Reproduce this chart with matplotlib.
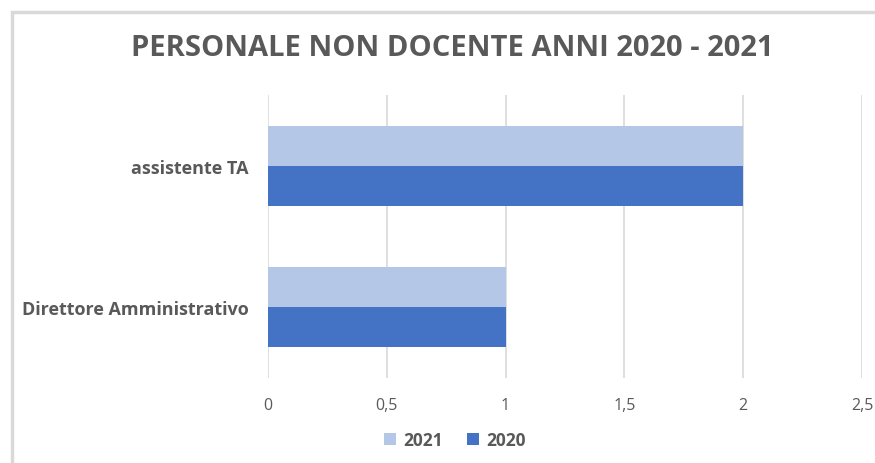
import matplotlib
matplotlib.use("Agg")
import matplotlib.pyplot as plt
from matplotlib.patches import Rectangle
from matplotlib.ticker import FuncFormatter
import numpy as np

categories = ["Direttore Amministrativo", "assistente TA"]
values_2021 = [1, 2]
values_2020 = [1, 2]
series_labels = ["2021", "2020"]
xticks = [0, 0.5, 1, 1.5, 2, 2.5]
title = "PERSONALE NON DOCENTE ANNI 2020 - 2021"

c2021 = "#B4C7E7"
c2020 = "#4472C4"
txt = "#595959"

plt.rcParams['font.family'] = ['Open Sans', 'DejaVu Sans']

fig = plt.figure(figsize=(8.75, 4.64), dpi=100)
fig.patches.append(Rectangle((12/875, -0.1), 1.2, 1 - 13/464 + 0.1, transform=fig.transFigure,
                             fill=False, edgecolor="#D9D9D9", linewidth=2.5, zorder=0))

ax = fig.add_axes([268/875, 1 - 379/464, 594/875, 283/464])
y = np.arange(len(categories))
h = 0.283
ax.barh(y + h/2, values_2021, height=h, color=c2021, label=series_labels[0], zorder=3)
ax.barh(y - h/2, values_2020, height=h, color=c2020, label=series_labels[1], zorder=3)

ax.set_xlim(0, 2.5)
ax.set_ylim(-0.5, 1.5)
ax.set_xticks(xticks)
ax.xaxis.set_major_formatter(FuncFormatter(lambda v, p: ("%g" % v).replace(".", ",")))
ax.set_yticks(y)
ax.set_yticklabels(categories, fontweight="bold", color=txt, fontsize=13)
ax.tick_params(axis="x", colors=txt, labelsize=11.5, length=0, pad=14)
ax.tick_params(axis="y", length=0, pad=14)
for s in ax.spines.values():
    s.set_visible(False)
ax.grid(axis="x", color="#D9D9D9", linewidth=1.2, zorder=0)
ax.set_axisbelow(True)

fig.text(452/875, 1 - 48/464, title, ha="center", va="center", fontsize=21,
         fontweight="bold", color=txt)

leg = fig.legend(loc="center", bbox_to_anchor=(455/875, 1 - 441/464), ncol=2, frameon=False,
                 fontsize=12.5, handlelength=0.7, handleheight=0.7, columnspacing=1.4,
                 handletextpad=0.4)
for t in leg.get_texts():
    t.set_color(txt)
    t.set_fontweight("bold")

fig.savefig("out.png", dpi=100)
